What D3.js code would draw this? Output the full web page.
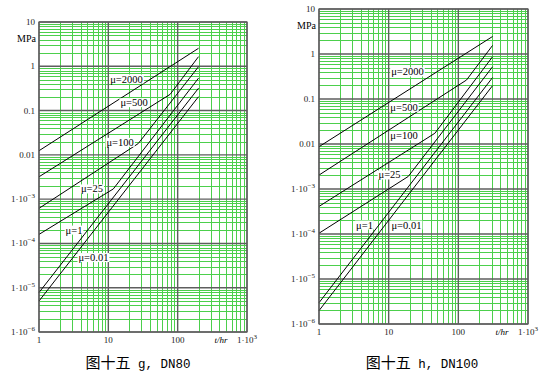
<!DOCTYPE html>
<html>
<head>
<meta charset="utf-8">
<script src="https://cdn.jsdelivr.net/npm/d3@7"></script>
<style>
body { margin: 0; background: #fff; }
</style>
</head>
<body>
<div id="viz"></div>
<script>

// ---- data ----
var muLabels = ["μ=2000", "μ=500", "μ=100", "μ=25", "μ=1", "μ=0.01"];

var tTicks = [1, 10, 100, 1000];
var tTickLabels = ["1", "10", "100", "1·10^3"];
var pTicks = [10, 1, 0.1, 0.01, 1e-3, 1e-4, 1e-5, 1e-6];
var pTickLabels = ["10", "1", "0.1", "0.01", "1·10^-3", "1·10^-4", "1·10^-5", "1·10^-6"];

// DN80: [t/hr, MPa] points per curve (laminar part, break, turbulent part)
var dn80Curves = [
  [[1, 0.0124], [200, 2.55]],
  [[1, 0.0032], [78, 0.233], [200, 1.65]],
  [[1, 6.2e-4], [27, 0.018], [200, 0.98]],
  [[1, 1.6e-4], [11.8, 1.7e-3], [200, 0.54]],
  [[1, 7.8e-6], [200, 0.32]],
  [[1, 5.0e-6], [200, 0.206]]
];
var dn80LabelAt = [[18.3, 0.516], [23.5, 0.151], [14.8, 0.0192], [5.8, 1.7e-3], [3.2, 2.0e-4], [6.1, 4.8e-5]];

// DN100
var dn100Curves = [
  [[1, 0.0087], [310, 2.45]],
  [[1, 0.00204], [131, 0.264], [310, 1.55]],
  [[1, 4.1e-4], [46, 0.0173], [310, 0.87]],
  [[1, 1.04e-4], [19.1, 1.9e-3], [310, 0.52]],
  [[1, 2.97e-6], [310, 0.30]],
  [[1, 1.98e-6], [310, 0.198]]
];
var dn100LabelAt = [[18.6, 0.40], [16.6, 0.0654], [16.6, 0.0153], [10.3, 2.05e-3], [4.5, 1.58e-4], [18, 1.58e-4]];

var captionMain = "图十五";
var captionSub = [" g, DN80", " h, DN100"];

// ---- drawing ----
width = 554;
height = 386;

var svg = d3.select("#viz")
    .append("svg")
    .attr("width", width)
    .attr("height", height);

// minor grid values per decade
var tGrid = [], pGrid = [];
for (var d = 0; d < 3; d++) for (var k = 2; k <= 9; k++) tGrid.push(k * Math.pow(10, d));
for (var d = -6; d < 1; d++) for (var k = 2; k <= 9; k++) pGrid.push(k * Math.pow(10, d));

var panels = [
  {x0: 39, x1: 247, y0: 22, y1: 332, curves: dn80Curves, labels: dn80LabelAt, cx: 138, sub: captionSub[0]},
  {x0: 319, x1: 528, y0: 9, y1: 324, curves: dn100Curves, labels: dn100LabelAt, cx: 422, sub: captionSub[1]}
];

panels.forEach(function(p) {
  var x = d3.scaleLog().domain([1, 1000]).range([p.x0, p.x1]);
  var y = d3.scaleLog().domain([1e-6, 10]).range([p.y1, p.y0]);
  var g = svg.append("g");

  // green minor grid
  g.selectAll("line.vminor").data(tGrid).enter().append("line")
      .attr("x1", function(d) { return Math.round(x(d)) + 0.5; })
      .attr("x2", function(d) { return Math.round(x(d)) + 0.5; })
      .attr("y1", p.y0).attr("y2", p.y1)
      .attr("stroke", "#4ccf4c").attr("stroke-width", 1);
  g.selectAll("line.hminor").data(pGrid).enter().append("line")
      .attr("y1", function(d) { return Math.round(y(d)) + 0.5; })
      .attr("y2", function(d) { return Math.round(y(d)) + 0.5; })
      .attr("x1", p.x0).attr("x2", p.x1)
      .attr("stroke", "#4ccf4c").attr("stroke-width", 1);

  // decade lines
  g.selectAll("line.vmajor").data(tTicks).enter().append("line")
      .attr("x1", function(d) { return x(d); })
      .attr("x2", function(d) { return x(d); })
      .attr("y1", p.y0).attr("y2", p.y1)
      .attr("stroke", "#5e5e5e").attr("stroke-width", 1.4);
  g.selectAll("line.hmajor").data(pTicks).enter().append("line")
      .attr("y1", function(d) { return y(d); })
      .attr("y2", function(d) { return y(d); })
      .attr("x1", p.x0).attr("x2", p.x1)
      .attr("stroke", "#5e5e5e").attr("stroke-width", 1.4);

  // curves
  var line = d3.line()
      .x(function(d) { return x(d[0]); })
      .y(function(d) { return y(d[1]); });
  g.selectAll("path.curve").data(p.curves).enter().append("path")
      .attr("d", line)
      .attr("fill", "none")
      .attr("stroke", "#000")
      .attr("stroke-width", 1);

  // curve labels with white box
  var lab = g.selectAll("g.lab").data(p.labels).enter().append("g");
  lab.append("rect").attr("fill", "#fff");
  lab.append("text")
      .attr("x", function(d) { return x(d[0]); })
      .attr("y", function(d) { return y(d[1]) + 3.5; })
      .attr("text-anchor", "middle")
      .style("font-family", "'Liberation Serif', serif")
      .style("font-size", "10.5px")
      .text(function(d, i) { return muLabels[i]; });
  lab.each(function() {
    var bb = d3.select(this).select("text").node().getBBox();
    d3.select(this).select("rect")
      .attr("x", bb.x - 1).attr("y", bb.y + 1)
      .attr("width", bb.width + 2).attr("height", bb.height - 2);
  });

  // y tick labels
  var yl = g.selectAll("text.ytick").data(pTicks).enter().append("text")
      .attr("x", p.x0 - 4)
      .attr("y", function(d) { return y(d) + 3; })
      .attr("text-anchor", "end")
      .style("font-family", "'Liberation Serif', serif")
      .style("font-size", "9px")
      .style("fill", "#222");
  yl.each(function(d, i) { writeTick(d3.select(this), pTickLabels[i]); });

  g.append("text")
      .attr("x", p.x0 - 3).attr("y", y(10) + 20)
      .attr("text-anchor", "end")
      .style("font-family", "'Liberation Serif', serif")
      .style("font-size", "10px")
      .text("MPa");

  // x tick labels
  var xl = g.selectAll("text.xtick").data(tTicks).enter().append("text")
      .attr("x", function(d) { return x(d); })
      .attr("y", p.y1 + 11)
      .attr("text-anchor", "middle")
      .style("font-family", "'Liberation Serif', serif")
      .style("font-size", "9px")
      .style("fill", "#222");
  xl.each(function(d, i) { writeTick(d3.select(this), tTickLabels[i]); });

  g.append("text")
      .attr("x", x(1000) - 26).attr("y", p.y1 + 11)
      .attr("text-anchor", "middle")
      .style("font-family", "'Liberation Serif', serif")
      .style("font-size", "9px")
      .style("font-style", "italic")
      .text("t/hr");

  // frame
  g.append("rect")
      .attr("x", p.x0).attr("y", p.y0)
      .attr("width", p.x1 - p.x0).attr("height", p.y1 - p.y0)
      .attr("fill", "none").attr("stroke", "#5e5e5e").attr("stroke-width", 1.2);

  // caption
  var cap = svg.append("text")
      .attr("x", p.cx).attr("y", 368)
      .attr("text-anchor", "middle")
      .style("font-size", "15px");
  cap.append("tspan")
      .style("font-family", "'Noto Sans CJK SC', sans-serif")
      .text(captionMain);
  cap.append("tspan")
      .style("font-family", "'Liberation Mono', monospace")
      .style("font-size", "12.5px")
      .attr("xml:space", "preserve")
      .text(p.sub);
});

function writeTick(sel, label) {
  var parts = label.split("^");
  sel.append("tspan").text(parts[0]);
  if (parts.length > 1) {
    sel.append("tspan")
        .attr("dy", -4)
        .style("font-size", "7px")
        .text(parts[1].replace("-", "\u2212"));
  }
}

</script>
</body>
</html>
